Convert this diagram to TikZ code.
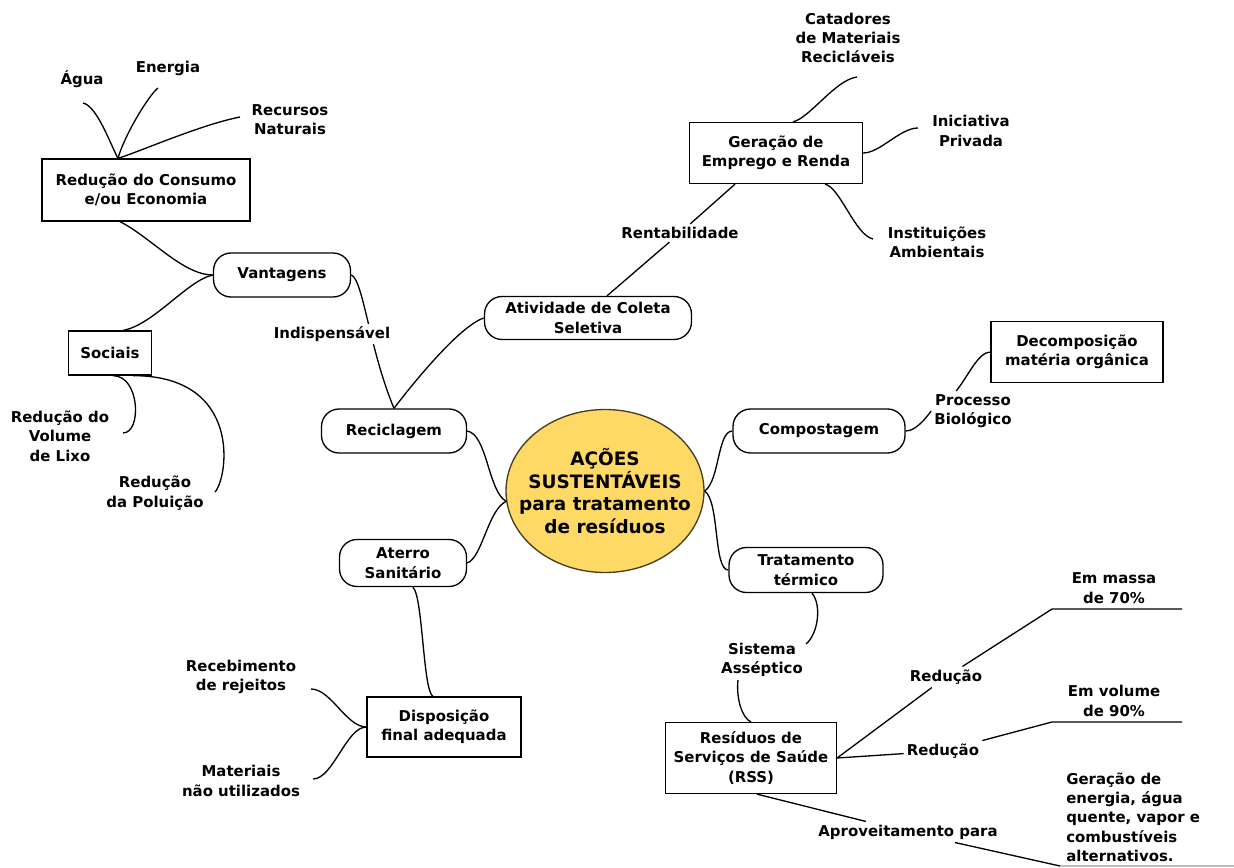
\documentclass[tikz,border=0pt]{standalone}
\usepackage{fontspec}
\setmainfont{DejaVu Sans}
\usetikzlibrary{shapes.geometric,calc}
\definecolor{hubgold}{RGB}{255,217,102}
\definecolor{hubline}{RGB}{70,60,30}
\tikzset{
  hub/.style={ellipse, draw=hubline, fill=hubgold, minimum width=3.88cm, minimum height=3.26cm,
    inner xsep=-9pt, inner ysep=0pt, align=center, font=\bfseries\fontsize{10.5}{13}\selectfont},
  pill/.style={draw, rounded corners=0.35cm, minimum height=0.88cm, inner sep=0, align=center},
  boxnode/.style={draw, rectangle, inner sep=0, align=center},
  leaf/.style={align=center, inner sep=1.5pt},
  tag/.style={align=center, inner sep=1.5pt, fill=white},
}
\begin{document}
\begin{tikzpicture}[x=0.02cm, y=-0.02cm, line width=0.75pt, font=\bfseries\fontsize{8.5}{11}\selectfont]
    \useasboundingbox (0,0) rectangle (1234,868);
    % centre and main branches
    \node[hub] (hub) at (605,491) {AÇÕES\\SUSTENTÁVEIS\\para tratamento\\de resíduos};
    \node[pill, minimum width=2.9cm] (rec) at (394,431) {Reciclagem};
    \node[pill, minimum width=3.44cm] (comp) at (819,431) {Compostagem};
    \node[pill, minimum width=2.54cm, minimum height=0.94cm] (ater) at (403,563) {Aterro\\Sanitário};
    \node[pill, minimum width=3.08cm, minimum height=0.9cm] (trat) at (806,570) {Tratamento\\térmico};
    \node[pill, minimum width=4.14cm, minimum height=0.86cm] (ativ) at (588,318) {Atividade de Coleta\\Seletiva};
    \node[pill, minimum width=2.74cm] (vant) at (282,275) {Vantagens};
    % boxes
    \node[boxnode, minimum width=4.16cm, minimum height=1.24cm] (cons) at (146,190) {Redução do Consumo\\e/ou Economia};
    \node[boxnode, minimum width=1.66cm, minimum height=0.88cm] (soc) at (110,353) {Sociais};
    \node[boxnode, minimum width=3.46cm, minimum height=1.22cm] (ger) at (776,153) {Geração de\\Emprego e Renda};
    \node[boxnode, minimum width=3.44cm, minimum height=1.22cm] (dec) at (1077,352) {Decomposição\\matéria orgânica};
    \node[boxnode, minimum width=3.08cm, minimum height=1.2cm] (disp) at (444,727) {Disposição\\final adequada};
    \node[boxnode, minimum width=3.42cm, minimum height=1.42cm] (rss) at (751,758) {Resíduos de\\Serviços de Saúde\\(RSS)};
    % leaves
    \node[leaf] (agua) at (82,79) {Água};
    \node[leaf] (ener) at (168,68) {Energia};
    \node[leaf] (recu) at (290,120) {Recursos\\Naturais};
    \node[leaf] (vol) at (60,436) {Redução do\\Volume\\de Lixo};
    \node[leaf] (polu) at (155,493) {Redução\\da Poluição};
    \node[leaf] (cata) at (848,38) {Catadores\\de Materiais\\Recicláveis};
    \node[leaf] (inic) at (971,131) {Iniciativa\\Privada};
    \node[leaf] (inst) at (937,242) {Instituições\\Ambientais};
    \node[leaf] (receb) at (241,677) {Recebimento\\de rejeitos};
    \node[leaf] (mater) at (241,781) {Materiais\\não utilizados};
    \node[leaf] (massa) at (1114,588) {Em massa\\de 70\%};
    \node[leaf] (volu) at (1114,701) {Em volume\\de 90\%};
    \node[leaf, align=left, anchor=west] (geren) at (1063,817) {Geração de\\energia, água\\quente, vapor e\\combustíveis\\alternativos.};
    % labels on the links
    \node[leaf] (rent) at (680,233) {Rentabilidade};
    \node[leaf] (proc) at (973,411) {Processo\\Biológico};
    \node[leaf] (sist) at (762,660) {Sistema\\Asséptico};
    \node[leaf] (redA) at (946,677) {Redução};
    \node[leaf] (redB) at (943,751) {Redução};
    \node[leaf] (aprov) at (908,832) {Aproveitamento para};
    % free ends and junctions
    \coordinate (aguaE) at (83,103);
    \coordinate (enerE) at (158,88);
    \coordinate (recuE) at (240,117);
    \coordinate (volE) at (123,433);
    \coordinate (poluE) at (215,492);
    \coordinate (cataE) at (857,77);
    \coordinate (inicE) at (918,128);
    \coordinate (instE) at (873,239);
    \coordinate (recebE) at (311,689);
    \coordinate (materE) at (313,779);
    \coordinate (massaA) at (1052,609);
    \coordinate (massaB) at (1182,609);
    \coordinate (voluA) at (1052,722);
    \coordinate (voluB) at (1182,722);
    \coordinate (aprovE) at (1060,866);
    \coordinate (bottomE) at (1234,866);
    \coordinate (consT) at ($(cons.north)+(-28,0)$);
    \coordinate (consB) at ($(cons.south)+(-26,0)$);
    \coordinate (socT) at ($(soc.north)+(13,0)$);
    \coordinate (socB1) at ($(soc.south)+(3,0)$);
    \coordinate (socB2) at ($(soc.south)+(23,0)$);
    \coordinate (gerT) at ($(ger.north)+(17,0)$);
    \coordinate (gerB) at ($(ger.south)+(49,0)$);
    \coordinate (gerBL) at ($(ger.south)+(-41,0)$);
    \coordinate (ativT) at ($(ativ.north)+(19,0)$);
    \coordinate (aterB) at ($(ater.south)+(10,0)$);
    \coordinate (tratB) at ($(trat.south)+(6,0)$);
    \coordinate (dispT) at ($(disp.north)+(-11,0)$);
    \coordinate (rssB) at ($(rss.south)+(6,0)$);
    % links
    \draw (rec.east) .. controls +(20,3) and +(-18,-10) .. (hub.186);
    \draw (ater.east) .. controls +(15,-5) and +(-18,8) .. (hub.186);
    \draw (hub.east) .. controls +(15,-10) and +(-15,0) .. (comp.west);
    \draw (hub.east) .. controls +(15,10) and +(-15,0) .. (trat.west);
    \draw (vant.east) .. controls +(12,4) and +(-25,-60) .. (rec.north);
    \draw (rec.north) .. controls +(15,-20) and +(-25,8) .. (ativ.west);
    \draw (consB) .. controls +(30,15) and +(-30,0) .. (vant.west);
    \draw (vant.west) .. controls +(-25,5) and +(30,-5) .. (socT);
    \draw (aguaE) .. controls +(14,3) and +(-8,-15) .. (consT);
    \draw (consT) .. controls +(6,-22) and +(-10,8) .. (enerE);
    \draw (consT) .. controls +(25,-8) and +(-40,8) .. (recuE);
    \draw (socB1) .. controls +(27,0) and +(19,0) .. (volE);
    \draw (socB2) .. controls +(110,0) and +(13,-14) .. (poluE);
    \draw (gerT) .. controls +(17,-4) and +(-22,3) .. (cataE);
    \draw (ger.east) .. controls +(17,0) and +(-18,0) .. (inicE);
    \draw (gerB) .. controls +(15,3) and +(-18,-4) .. (instE);
    \draw (ativT) -- (rent) -- (gerBL);
    \draw (comp.east) .. controls +(10,0) and +(-6,8) .. (proc.west);
    \draw (proc.130) .. controls +(12,-15) and +(-12,0) .. (dec.west);
    \draw (tratB) .. controls +(10,12) and +(12,-10) .. (sist.20);
    \draw (sist.220) .. controls +(-2,20) and +(-8,-3) .. (rss.north);
    \draw (aterB) .. controls +(10,10) and +(-10,-5) .. (dispT);
    \draw (disp.west) .. controls +(-20,0) and +(20,0) .. (recebE);
    \draw (disp.west) .. controls +(-20,0) and +(20,0) .. (materE);
    \draw (rss.east) -- (redA) -- (massaA) -- (massaB);
    \draw (rss.east) -- (redB) -- (voluA) -- (voluB);
    \draw (rssB) -- (aprov) -- (aprovE);
    \draw[gray!50] (aprovE) -- (bottomE);
    \node[tag] (indis) at (332,334) {Indispensável};
\end{tikzpicture}
\end{document}
